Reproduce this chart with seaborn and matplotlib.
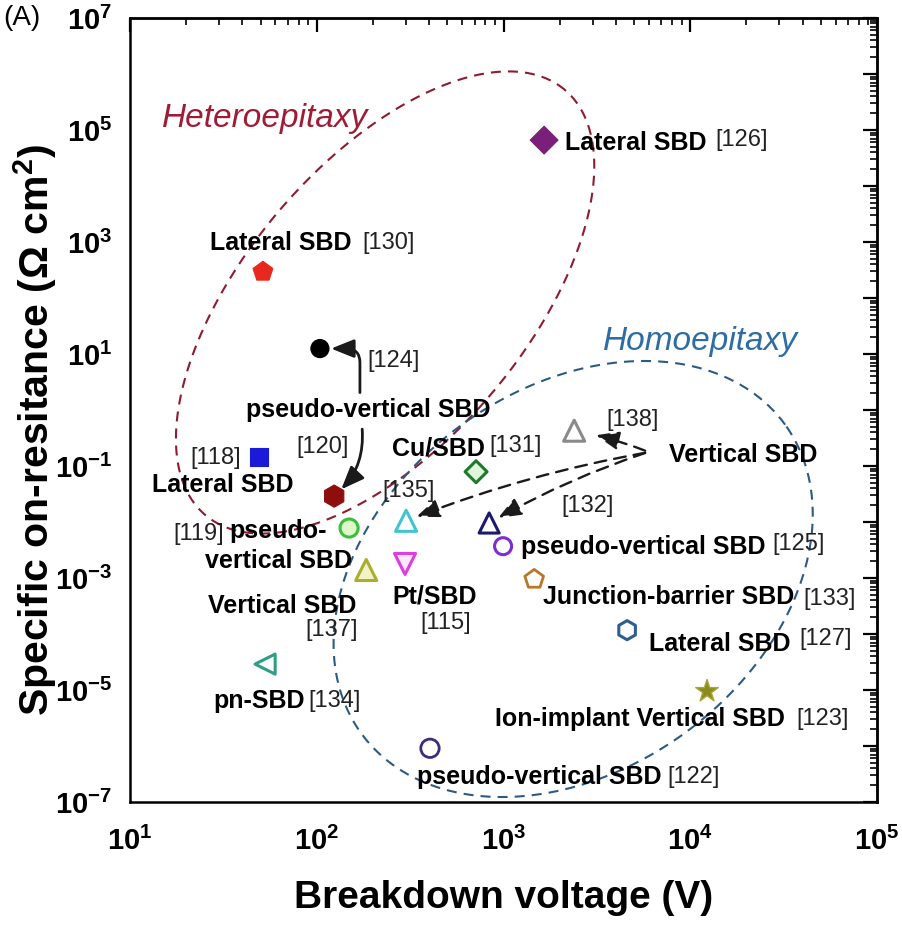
import numpy as np
import pandas as pd
import matplotlib
matplotlib.use("Agg")
import matplotlib.pyplot as plt
import seaborn as sns
from matplotlib.ticker import FixedLocator, FixedFormatter, LogLocator, NullFormatter

# ---------------- data ----------------
refs = ['[126]', '[130]', '[124]', '[118]', '[120]', '[119]', '[135]', '[137]', '[115]',
        '[131]', '[138]', '[132]', '[125]', '[133]', '[127]', '[123]', '[134]', '[122]']
breakdown_V = [1650, 51.5, 104, 49, 124, 149, 301, 184, 297,
               713, 2390, 838, 995, 1460, 4590, 12300, 52.9, 404]
ron_ohm_cm2 = [6.6e4, 295, 12.5, 0.146, 0.029, 0.0078, 0.0105, 0.00139, 0.00178,
               0.079, 0.427, 0.0096, 0.0037, 0.00095, 1.17e-4, 9.5e-6, 2.9e-5, 9.1e-7]
device_labels = ['Lateral SBD', 'Lateral SBD', '', 'Lateral SBD', '', 'pseudo-\nvertical SBD', '',
                 'Vertical SBD', 'Pt/SBD', 'Cu/SBD', '', '', 'pseudo-vertical SBD',
                 'Junction-barrier SBD', 'Lateral SBD', 'Ion-implant Vertical SBD', 'pn-SBD',
                 'pseudo-vertical SBD']
shared_label_pv = 'pseudo-vertical SBD'   # refs [124] and [120]
shared_label_v = 'Vertical SBD'           # refs [138], [135], [132]

x_ticks = [1e1, 1e2, 1e3, 1e4, 1e5]
x_ticklabels = [r'$\mathbf{10^{1}}$', r'$\mathbf{10^{2}}$', r'$\mathbf{10^{3}}$',
                r'$\mathbf{10^{4}}$', r'$\mathbf{10^{5}}$']
y_exponents = list(range(-7, 8))
y_ticks = [10.0 ** k for k in y_exponents]
y_ticklabels = [r'$\mathbf{10^{%d}}$' % k if k % 2 else '' for k in y_exponents]

# ellipses in log-space: centre (log10 V, log10 R) and two half-axis vectors (decades)
hetero_centre = (2.366, 1.92)
hetero_axes = ((0.963, 3.795), (-0.572, 1.620))
homo_centre = (3.373, -3.018)
homo_axes = ((1.135, 2.756), (-0.598, 2.750))

# ---------------- styles ----------------
marker_shapes = ['D', 'p', 'o', 's', 'h', 'o', '^', '^', 'v',
                 'D', '^', '^', 'o', 'p', 'h', '*', '<', 'o']
edge_colors = ['#7a1f7a', '#e8281e', '#000000', '#1a1ad8', '#8e0e0e', '#3cbe3c', '#3ec6cf',
               '#a9ae2e', '#e03de0', '#1e7a2a', '#8a8a8a', '#1a1a6e', '#7b2fd0', '#b8772a',
               '#2d5e8e', '#a8a838', '#2e9e86', '#3b2d80']
face_colors = ['#7a1f7a', '#e8281e', '#000000', '#1a1ad8', '#8e0e0e', '#ddf7c8', '#ffffff',
               '#f2f2c6', '#fbe8fb', '#e0f5da', '#ffffff', '#ffffff', '#ffffff', '#ffffff',
               '#ffffff', '#8c8c1e', '#ffffff', '#ffffff']
marker_area = [200, 225, 170, 165, 256, 170, 230, 230, 230, 125, 230, 210, 150, 200, 190, 290, 210, 175]
marker_lw = [0.8, 0.8, 0.8, 0.8, 0.8, 2.2, 2.2, 2.2, 2.2, 2.2, 2.2, 2.2, 2.2, 2.0, 2.2, 1.0, 2.2, 2.0]

# label offsets (pixels) from their marker
label_off = {0: (21, 0), 1: (-53, 31), 3: (-107, -26), 5: (-71, 0), 7: (-158, -34),
             8: (-13, -30), 9: (-84, 26), 12: (18, 2), 13: (9, -15), 14: (22, -11),
             15: (-212, -25), 16: (-52, -34), 17: (-13, -26)}
ref_off = {0: (171, 3), 1: (99, 31), 2: (47, -10), 3: (-69, 1), 4: (-38, 52), 5: (-176, -3),
           6: (-24, 32), 7: (-61, -58), 8: (15, -57), 9: (13, 28), 10: (32, 13), 11: (72, 19),
           12: (269, 5), 13: (269, -17), 14: (172, -6), 15: (89, -25), 16: (43, -34),
           17: (237, -26)}

# ---------------- theme ----------------
sns.set_theme(style='white')
plt.rcParams['font.family'] = ['Liberation Sans', 'DejaVu Sans']
plt.rcParams['mathtext.fontset'] = 'custom'
plt.rcParams['mathtext.rm'] = 'Liberation Sans'
plt.rcParams['mathtext.bf'] = 'Liberation Sans:bold'
plt.rcParams['mathtext.it'] = 'Liberation Sans:italic'
plt.rcParams['text.color'] = 'black'
plt.rcParams['axes.labelcolor'] = 'black'
plt.rcParams['xtick.color'] = 'black'
plt.rcParams['ytick.color'] = 'black'

fig = plt.figure(figsize=(9.02, 9.40), dpi=100)
ax = fig.add_axes([130 / 902, 1 - 802 / 940, 747 / 902, 784 / 940])
ax.set_xscale('log')
ax.set_yscale('log')

df = pd.DataFrame({'ref': refs, 'V': breakdown_V, 'R': ron_ohm_cm2})
sns.scatterplot(data=df, x='V', y='R', hue='ref', style='ref', size='ref',
                palette=dict(zip(refs, edge_colors)),
                markers=dict(zip(refs, marker_shapes)),
                sizes=dict(zip(refs, marker_area)),
                legend=False, ax=ax, zorder=4)
pts = ax.collections[0]
pts.set_facecolors(face_colors)
pts.set_edgecolors(edge_colors)
pts.set_linewidths(marker_lw)

# ellipses
t = np.linspace(0, 2 * np.pi, 400)
for (cx, cy), ((a1, a2), (b1, b2)), col in [(hetero_centre, hetero_axes, '#8e1b32'),
                                             (homo_centre, homo_axes, '#2b5b85')]:
    ex = 10 ** (cx + a1 * np.cos(t) + b1 * np.sin(t))
    ey = 10 ** (cy + a2 * np.cos(t) + b2 * np.sin(t))
    ax.plot(ex, ey, color=col, lw=1.5, ls=(0, (4.8, 3.4)), zorder=2)

ax.set_xlim(1e1, 1e5)
ax.set_ylim(1e-7, 1e7)

# labels
V = breakdown_V
R = ron_ohm_cm2
for i, txt in enumerate(device_labels):
    if txt:
        dx, dy = label_off[i]
        lines = txt.split('\n')
        if len(lines) > 1:
            for k, line in enumerate(lines):
                ax.annotate(line, xy=(V[i], R[i]), xytext=(dx, dy - 30 * k),
                            textcoords='offset pixels', ha='center', va='center_baseline',
                            fontsize=18, fontweight='bold', zorder=3)
        else:
            ax.annotate(txt, xy=(V[i], R[i]), xytext=(dx, dy), textcoords='offset pixels',
                        ha='left', va='center_baseline', fontsize=18, fontweight='bold', zorder=3)
    dx, dy = ref_off[i]
    ax.annotate(refs[i], xy=(V[i], R[i]), xytext=(dx, dy), textcoords='offset pixels',
                ha='left', va='center_baseline', fontsize=17, color='#222222', zorder=3)

ax.annotate(shared_label_pv, xy=(V[2], R[2]), xytext=(-74, -59), textcoords='offset pixels',
            ha='left', va='center_baseline', fontsize=18, fontweight='bold', zorder=3)
ax.annotate(shared_label_v, xy=(V[10], R[10]), xytext=(95, -22), textcoords='offset pixels',
            ha='left', va='center_baseline', fontsize=18, fontweight='bold', zorder=3)

# arrows
head = '-|>,head_length=0.7,head_width=0.28'
ax.annotate('', xy=(V[2], R[2]), xytext=(40, -44), textcoords='offset pixels',
            arrowprops=dict(arrowstyle=head, mutation_scale=20, lw=2, color='k',
                            shrinkA=0, shrinkB=8,
                            connectionstyle='angle,angleA=90,angleB=0,rad=14'))
ax.annotate('', xy=(V[4], R[4]), xytext=(28, 67), textcoords='offset pixels',
            arrowprops=dict(arrowstyle=head, mutation_scale=20, lw=2, color='k',
                            shrinkA=0, shrinkB=7, connectionstyle='arc3,rad=-0.25'))
for idx, off, shr in [(10, (71, -20), 16), (6, (239, 68), 8), (11, (156, 70), 7.5)]:
    ax.annotate('', xy=(V[idx], R[idx]), xytext=off, textcoords='offset pixels',
                arrowprops=dict(arrowstyle=head, mutation_scale=20, lw=1.7, color='k',
                                ls=(0, (5.0, 3.4)), shrinkA=0, shrinkB=shr,
                                connectionstyle='arc3,rad=0.05'))

# region captions
ax.text(14.8, 1.84e5, 'Heteroepitaxy', fontsize=24, style='italic', color='#a01c35',
        ha='left', va='center_baseline')
ax.text(3410, 19.6, 'Homoepitaxy', fontsize=24, style='italic', color='#2e6da4',
        ha='left', va='center_baseline')
fig.text(3 / 902, 1 - 18 / 940, '(A)', fontsize=20, ha='left', va='center')

# ticks
ax.xaxis.set_major_locator(FixedLocator(x_ticks))
ax.xaxis.set_major_formatter(FixedFormatter(x_ticklabels))
ax.xaxis.set_minor_locator(LogLocator(base=10, subs=np.arange(2, 10), numticks=100))
ax.xaxis.set_minor_formatter(NullFormatter())
ax.yaxis.set_major_locator(FixedLocator(y_ticks))
ax.yaxis.set_major_formatter(FixedFormatter(y_ticklabels))
ax.yaxis.set_minor_locator(LogLocator(base=10, subs=np.arange(2, 10), numticks=100))
ax.yaxis.set_minor_formatter(NullFormatter())
ax.tick_params(which='major', direction='out', length=11, width=1.6, labelsize=21,
               top=False, right=False, colors='black')
ax.tick_params(which='minor', direction='out', length=6, width=1.2, top=False, right=False)
ax.tick_params(axis='x', pad=7)
ax.tick_params(axis='y', pad=2)
for s in ax.spines.values():
    s.set_linewidth(1.8)
    s.set_color('black')

topax = ax.secondary_xaxis('top')
topax.xaxis.set_major_locator(FixedLocator(x_ticks))
topax.xaxis.set_minor_locator(LogLocator(base=10, subs=np.arange(2, 10), numticks=100))
topax.xaxis.set_major_formatter(NullFormatter())
topax.xaxis.set_minor_formatter(NullFormatter())
topax.tick_params(which='major', direction='in', length=10, width=1.6)
topax.tick_params(which='minor', direction='in', length=5, width=1.2)
topax.spines['top'].set_linewidth(1.8)

rightax = ax.secondary_yaxis('right')
rightax.yaxis.set_major_locator(FixedLocator(y_ticks))
rightax.yaxis.set_minor_locator(LogLocator(base=10, subs=np.arange(2, 10), numticks=100))
rightax.yaxis.set_major_formatter(NullFormatter())
rightax.yaxis.set_minor_formatter(NullFormatter())
rightax.tick_params(which='major', direction='in', length=10, width=1.6)
rightax.tick_params(which='minor', direction='in', length=5, width=1.2)
rightax.spines['right'].set_linewidth(1.8)

ax.set_xlabel('Breakdown voltage (V)', fontsize=28, fontweight='bold')
ax.set_ylabel(r'Specific on-resitance (Ω cm$^{\mathbf{2}}$)', fontsize=29.5, fontweight='bold',
              va='center', ha='center')
ax.xaxis.set_label_coords(0.5, -0.1224)
ax.yaxis.set_label_coords(-0.127, 0.4745)
ax.xaxis.label.set_va('center')

fig.savefig('out.png', dpi=100)
